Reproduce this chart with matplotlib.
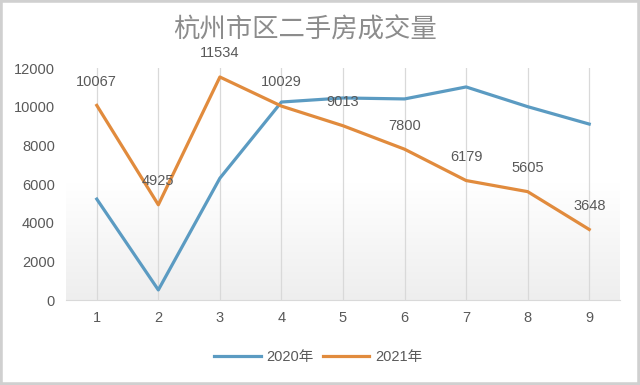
import matplotlib.pyplot as plt
import numpy as np
from matplotlib.colors import LinearSegmentedColormap
from matplotlib.patches import Rectangle

plt.rcParams['font.family'] = ['Liberation Sans', 'Noto Sans CJK SC', 'DejaVu Sans']

# data
months = [1, 2, 3, 4, 5, 6, 7, 8, 9]
sales_2020 = [5220, 520, 6300, 10240, 10450, 10400, 11020, 10000, 9100]
sales_2021 = [10067, 4925, 11534, 10029, 9013, 7800, 6179, 5605, 3648]
series_names = ['2020年', '2021年']
y_ticks = [0, 2000, 4000, 6000, 8000, 10000, 12000]

BLUE = '#5B9BC2'
ORANGE = '#E18B3D'
GREY_TEXT = '#595959'

fig = plt.figure(figsize=(6.4, 3.85), dpi=100)
ax = fig.add_axes([66 / 640, 1 - 300 / 385, 554 / 640, 232 / 385])

# soft vertical gradient behind the plot (white at top, light grey at bottom)
bg = LinearSegmentedColormap.from_list('bg', ['#FFFFFF', '#FFFFFF', '#EEEEEE'])
grad = np.linspace(0, 1, 256).reshape(-1, 1)
ax.imshow(grad, extent=[0.5, 9.5, 0, 12000], aspect='auto', cmap=bg,
          origin='upper', zorder=0)

for m in months:
    ax.axvline(m, color='#D9D9D9', lw=0.9, zorder=1)

ax.plot(months, sales_2020, color=BLUE, lw=2.3, label=series_names[0], zorder=3)
ax.plot(months, sales_2021, color=ORANGE, lw=2.3, label=series_names[1], zorder=3)

for m, v in zip(months, sales_2021):
    ax.annotate(str(v), (m, v), xytext=(0, 17), textcoords='offset points',
                ha='center', va='center', fontsize=10.5, color=GREY_TEXT, zorder=4)

ax.set_xlim(0.5, 9.5)
ax.set_ylim(0, 12000)
ax.set_xticks(months)
ax.set_yticks(y_ticks)
ax.tick_params(length=0, labelsize=10.5, colors=GREY_TEXT, pad=8)
for side in ['top', 'right', 'left']:
    ax.spines[side].set_visible(False)
ax.spines['bottom'].set_color('#D9D9D9')

fig.text(0.477, 1 - 30 / 385, '杭州市区二手房成交量', ha='center', va='center',
         fontsize=19, color='#8C8C8C', family=['Noto Sans CJK SC', 'DejaVu Sans'])

fig.legend(loc='center', bbox_to_anchor=(0.497, 1 - 357 / 385), ncol=2, frameon=False,
           fontsize=10.5, handlelength=3.2, columnspacing=0.6, handletextpad=0.4,
           labelcolor=GREY_TEXT)

fig.patches.append(Rectangle((0, 0), 1, 1, transform=fig.transFigure, fill=False,
                             edgecolor='#D0D0D0', lw=4))

fig.savefig('out.png', dpi=100)
